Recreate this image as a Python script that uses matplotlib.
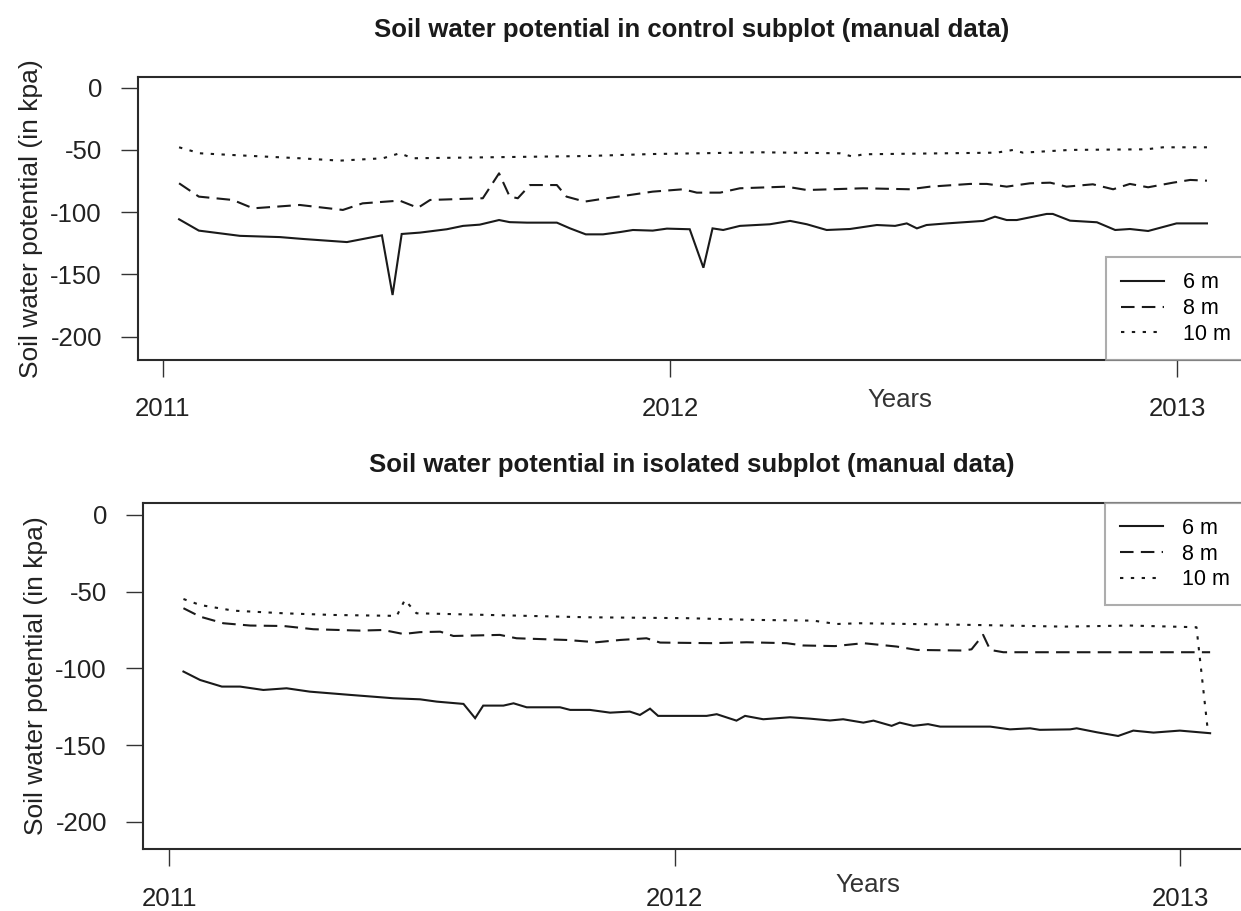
import matplotlib
matplotlib.use("Agg")
import matplotlib.pyplot as plt
from matplotlib.lines import Line2D

plt.rcParams['font.family'] = ['Liberation Sans', 'DejaVu Sans']

# ---- control subplot (top) ----
ctrl_6m_t = [2011.032, 2011.071, 2011.152, 2011.231, 2011.276, 2011.363, 2011.432, 2011.453,
             2011.471, 2011.507, 2011.560, 2011.592, 2011.625, 2011.663, 2011.684, 2011.718,
             2011.777, 2011.803, 2011.834, 2011.868, 2011.901, 2011.927, 2011.966, 2011.994,
             2012.039, 2012.066, 2012.084, 2012.105, 2012.138, 2012.197, 2012.237, 2012.270,
             2012.309, 2012.355, 2012.408, 2012.444, 2012.467, 2012.487, 2012.506, 2012.546,
             2012.618, 2012.641, 2012.664, 2012.684, 2012.743, 2012.755, 2012.789, 2012.842,
             2012.878, 2012.907, 2012.943, 2012.999, 2013.059]
ctrl_6m = [-105.7, -114.8, -119.0, -120.0, -121.5, -124.0, -118.6, -166.5,
           -117.5, -116.4, -113.7, -111.0, -110.0, -106.3, -108.0, -108.4,
           -108.4, -113.0, -117.8, -117.8, -116.0, -114.3, -114.8, -113.2,
           -113.7, -144.6, -113.0, -114.3, -111.0, -109.7, -107.0, -109.7,
           -114.3, -113.5, -110.3, -111.0, -109.0, -113.0, -110.3, -109.0,
           -107.0, -103.6, -106.3, -106.3, -101.4, -101.4, -106.8, -108.1,
           -114.3, -113.5, -115.1, -109.0, -109.0]

ctrl_8m_t = [2011.032, 2011.071, 2011.138, 2011.178, 2011.270, 2011.355, 2011.394, 2011.467,
             2011.503, 2011.527, 2011.631, 2011.663, 2011.684, 2011.700, 2011.724, 2011.777,
             2011.796, 2011.832, 2011.875, 2011.921, 2011.966, 2012.026, 2012.053, 2012.099,
             2012.138, 2012.230, 2012.270, 2012.381, 2012.473, 2012.513, 2012.592, 2012.625,
             2012.664, 2012.710, 2012.750, 2012.782, 2012.834, 2012.874, 2012.907, 2012.943,
             2012.992, 2013.026, 2013.059]
ctrl_8m = [-76.8, -87.5, -90.2, -96.9, -94.2, -98.2, -92.9, -90.7,
           -96.5, -90.2, -88.8, -68.8, -87.5, -88.8, -78.2, -78.2,
           -87.5, -91.5, -88.8, -86.2, -83.5, -81.6, -84.3, -84.3,
           -80.8, -79.5, -82.2, -80.8, -81.6, -79.5, -77.3, -77.3,
           -79.5, -76.8, -76.3, -79.5, -77.6, -81.6, -77.3, -80.0,
           -76.3, -74.1, -74.7]

ctrl_10m_t = [2011.032, 2011.073, 2011.138, 2011.270, 2011.349, 2011.434, 2011.467, 2011.493,
              2011.836, 2011.966, 2012.178, 2012.335, 2012.361, 2012.381, 2012.644, 2012.677,
              2012.696, 2012.789, 2012.940, 2012.972, 2013.059]
ctrl_10m = [-47.9, -52.7, -54.1, -56.7, -58.6, -56.7, -52.7, -56.7,
            -54.9, -53.3, -51.9, -52.7, -55.4, -53.5, -52.2, -50.0,
            -52.2, -50.0, -49.5, -47.9, -47.9]

# ---- isolated subplot (bottom) ----
iso_6m_t = [2011.028, 2011.061, 2011.104, 2011.140, 2011.186, 2011.232, 2011.278, 2011.357,
            2011.443, 2011.496, 2011.529, 2011.582, 2011.605, 2011.621, 2011.661, 2011.681,
            2011.707, 2011.773, 2011.793, 2011.832, 2011.872, 2011.911, 2011.931, 2011.951,
            2011.967, 2012.063, 2012.083, 2012.122, 2012.139, 2012.175, 2012.228, 2012.267,
            2012.307, 2012.333, 2012.373, 2012.393, 2012.429, 2012.445, 2012.472, 2012.501,
            2012.525, 2012.624, 2012.663, 2012.703, 2012.722, 2012.782, 2012.795, 2012.835,
            2012.877, 2012.907, 2012.947, 2012.999, 2013.059]
iso_6m = [-102.1, -107.6, -111.9, -111.9, -114.1, -113.0, -115.2, -117.3,
          -119.5, -120.2, -121.7, -123.2, -132.5, -124.3, -124.3, -122.8,
          -125.4, -125.4, -127.1, -127.1, -128.9, -128.2, -130.4, -126.3,
          -131.0, -131.0, -129.9, -134.1, -131.0, -133.2, -131.9, -132.8,
          -134.0, -133.2, -135.4, -134.1, -137.5, -135.4, -137.5, -136.4,
          -138.0, -138.0, -139.8, -139.1, -140.1, -139.8, -139.1, -141.7,
          -144.1, -140.6, -141.9, -140.6, -142.3]

iso_8m_t = [2011.028, 2011.061, 2011.107, 2011.160, 2011.226, 2011.285, 2011.377, 2011.423,
            2011.463, 2011.496, 2011.536, 2011.562, 2011.654, 2011.687, 2011.786, 2011.845,
            2011.892, 2011.944, 2011.971, 2012.076, 2012.142, 2012.221, 2012.254, 2012.317,
            2012.373, 2012.439, 2012.479, 2012.571, 2012.587, 2012.610, 2012.624, 2012.650,
            2013.032, 2013.059]
iso_8m = [-60.8, -66.3, -70.6, -72.1, -72.4, -74.5, -75.4, -75.0,
          -77.6, -76.4, -76.1, -78.9, -78.2, -80.4, -81.5, -83.0,
          -81.5, -80.4, -83.2, -83.6, -83.0, -83.6, -85.1, -85.5,
          -83.6, -85.8, -88.0, -88.4, -87.6, -78.2, -88.0, -89.5,
          -89.5, -89.5]

iso_10m_t = [2011.028, 2011.061, 2011.127, 2011.226, 2011.324, 2011.450, 2011.466, 2011.489,
             2011.826, 2012.024, 2012.155, 2012.274, 2012.320, 2012.366, 2012.590, 2012.769,
             2012.900, 2013.032, 2013.055]
iso_10m = [-54.8, -58.7, -62.4, -64.1, -65.2, -65.8, -55.4, -64.1,
           -66.7, -67.3, -68.4, -68.9, -71.1, -70.6, -71.7, -72.8,
           -72.1, -73.2, -142.3]

depth_labels = ['6 m', '8 m', '10 m']
year_ticks = [2011, 2012, 2013]
y_ticks = [0, -50, -100, -150, -200]

W, H = 1241, 911
fig = plt.figure(figsize=(W / 100, H / 100), dpi=100)

line_color = '#1a1a1a'
styles = [dict(linestyle='-'),
          dict(linestyle=(0, (6.5, 3.5))),
          dict(linestyle=(0, (1.6, 3.6)))]


def panel(rect, series, title, xlim, ylim, legend_loc, title_y, xlabel_xy):
    ax = fig.add_axes(rect)
    for (t, v), st in zip(series, styles):
        ax.plot(t, v, color=line_color, lw=1.5, solid_joinstyle='miter', **st)
    ax.set_xlim(*xlim)
    ax.set_ylim(*ylim)
    ax.set_xticks(year_ticks)
    ax.set_xticklabels([str(y) for y in year_ticks])
    ax.set_yticks(y_ticks)
    ax.set_yticklabels([str(y) for y in y_ticks])
    ax.tick_params(axis='both', direction='out', length=12, width=1.0,
                   color='#333333', labelsize=18.5, labelcolor='#222222')
    ax.tick_params(axis='x', pad=15)
    ax.tick_params(axis='y', pad=14)
    for s in ax.spines.values():
        s.set_linewidth(1.5)
        s.set_color('#2a2a2a')
    ax.set_ylabel('Soil water potential (in kpa)', fontsize=19, color='#222222',
                  labelpad=5)
    fig.text(0.5575, title_y, title, ha='center', va='center', fontsize=18.5,
             fontweight='bold', color='#1a1a1a')
    fig.text(xlabel_xy[0], xlabel_xy[1], 'Years', ha='center', va='center',
             fontsize=18.5, color='#333333')
    handles = [Line2D([], [], color=line_color, lw=1.5, **st) for st in styles]
    leg = ax.legend(handles, depth_labels, loc=legend_loc, fontsize=15.5,
                    frameon=True, fancybox=False, borderaxespad=0.0,
                    handlelength=2.0, handletextpad=0.9, labelspacing=0.22,
                    borderpad=0.7)
    leg.get_frame().set_edgecolor('#999999')
    leg.get_frame().set_linewidth(1.5)
    return ax


panel([138 / W, 1 - 360 / H, (1246 - 138) / W, (360 - 76.7) / H],
      [(ctrl_6m_t, ctrl_6m), (ctrl_8m_t, ctrl_8m), (ctrl_10m_t, ctrl_10m)],
      'Soil water potential in control subplot (manual data)',
      (2010.951, 2013.136), (-218.7, 8.8), 'lower right',
      1 - 30 / H, (900 / W, 1 - 400 / H))

panel([143 / W, 1 - 849 / H, (1245 - 143) / W, (849 - 502.7) / H],
      [(iso_6m_t, iso_6m), (iso_8m_t, iso_8m), (iso_10m_t, iso_10m)],
      'Soil water potential in isolated subplot (manual data)',
      (2010.948, 2013.128), (-217.8, 8.0), 'upper right',
      1 - 465 / H, (868 / W, 1 - 885 / H))

fig.savefig('out.png', dpi=100)
